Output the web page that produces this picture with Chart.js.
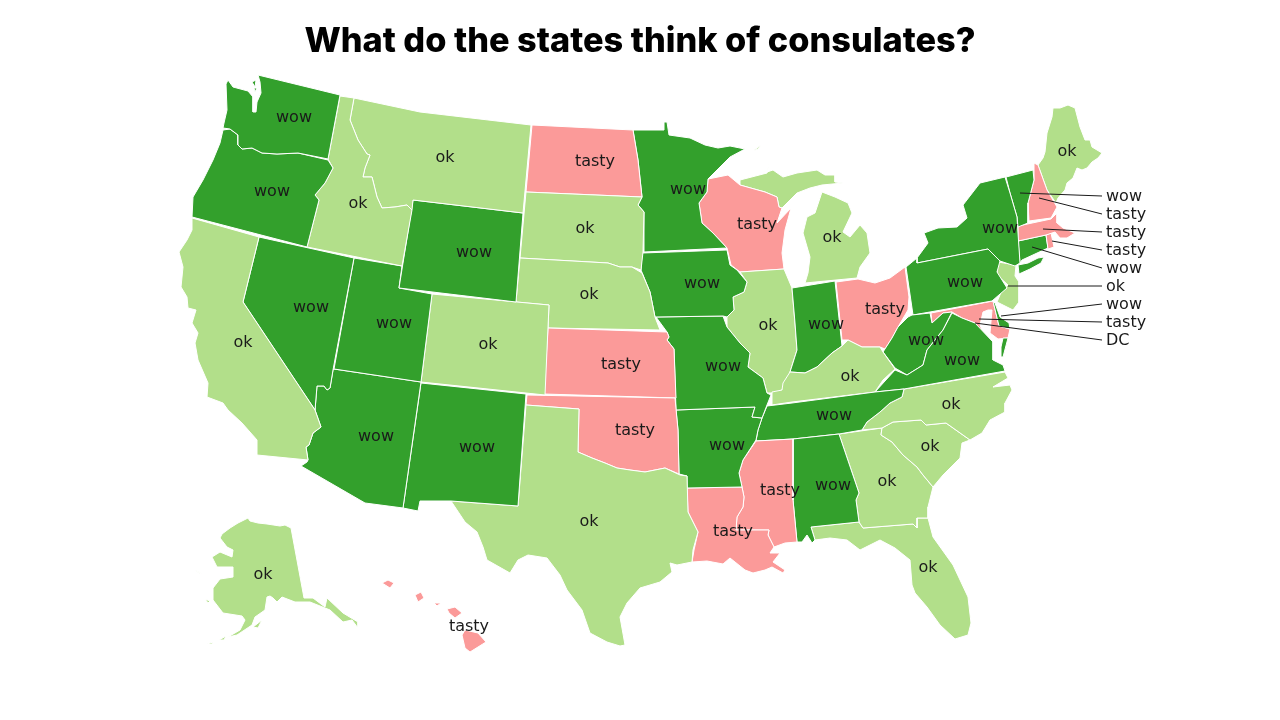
<!DOCTYPE html>
<html lang="en">
<head>
    <meta charset="UTF-8">
    <title>What do the states think of consulates?</title>
    <style>
        body { margin: 0; background: #fff; }
        #wrap { width: 1280px; height: 720px; }
    </style>
</head>
<body>
    <div id="wrap"><canvas id="map"></canvas></div>

    <script src="https://cdn.jsdelivr.net/npm/chart.js"></script>
    <script>
        // categories
        var titleText = 'What do the states think of consulates?';
        var opinionColors = { wow: '#33a02c', ok: '#b2df8a', tasty: '#fb9a99' };

        // one answer per state, same order as the outlines below
        var stateNames = ['WA','OR','ID','MT','WY','CA','NV','UT','CO','AZ','NM','TX','OK','KS','NE','SD','ND','MN','IA','MO','AR','LA','MS','AL','TN','KY','VA','WV','OH','IN','IL','WI','MI','PA','NY','VT','NH','ME','MA','RI','CT','NJ','DE','MD','NC','SC','GA','FL','AK','HI'];
        var stateOpinions = ['wow','wow','ok','ok','wow','ok','wow','wow','ok','wow','wow','ok','tasty','tasty','ok','ok','tasty','wow','wow','wow','wow','tasty','tasty','wow','wow','ok','wow','wow','tasty','wow','ok','tasty','ok','wow','wow','wow','tasty','ok','tasty','tasty','wow','ok','wow','tasty','ok','ok','ok','ok','ok','tasty'];

        // state outlines, map units, one list of rings per state
        var stateRings = [
            [[[258,75],[340,95],[328,159],[298,153],[277,154],[262,153],[252,148],[242,149],[238,145],[238,135],[230,129],[223,128],[224,123],[227,110],[226,84],[228,80],[233,87],[248,91],[253,97],[253,112],[256,112],[257,102],[261,93],[260,82]],[[252,82],[256,80],[255,87]],[[254,88],[257,88],[255,92]]],
            [[[223,130],[230,129],[238,135],[238,145],[242,149],[252,148],[262,153],[277,154],[298,153],[328,160],[333,168],[325,183],[315,195],[319,200],[307,247],[192,217],[193,197],[203,180],[213,160],[220,143]]],
            [[[340,96],[354,98],[350,120],[358,140],[367,154],[370,155],[365,168],[363,177],[372,177],[377,197],[382,208],[395,207],[407,205],[412,210],[402,266],[307,247],[319,200],[315,195],[325,183],[333,168],[328,159]]],
            [[[354,98],[420,112],[531,125],[523,213],[413,200],[412,210],[407,205],[395,207],[382,208],[377,197],[372,177],[363,177],[365,168],[370,155],[367,154],[358,140],[350,120]]],
            [[[413,200],[523,213],[516,302],[399,288]]],
            [[[192,218],[259,237],[243,302],[315,410],[321,427],[313,433],[309,445],[306,447],[308,460],[257,455],[257,440],[242,423],[228,410],[223,403],[207,397],[208,383],[198,360],[195,343],[198,333],[192,323],[196,310],[188,308],[187,297],[181,287],[183,267],[179,252],[187,240],[192,230]]],
            [[[259,237],[354,258],[333,370],[330,388],[327,390],[324,386],[317,386],[315,410],[243,302]]],
            [[[354,258],[402,266],[399,288],[432,294],[421,382],[334,369]]],
            [[[432,294],[549,305],[545,395],[421,382]]],
            [[[334,369],[421,382],[403,508],[365,503],[301,466],[307,462],[308,460],[306,447],[309,445],[313,433],[321,427],[315,410],[317,386],[324,386],[327,390],[330,388],[333,370]]],
            [[[421,383],[526,394],[518,506],[451,501],[420,501],[418,511],[403,508]]],
            [[[526,405],[579,409],[578,452],[592,458],[605,463],[617,468],[630,470],[645,472],[665,468],[680,475],[687,476],[688,512],[698,532],[693,550],[692,562],[677,565],[670,563],[672,572],[660,582],[640,588],[627,603],[620,617],[625,645],[620,646],[607,642],[590,633],[582,610],[567,590],[560,575],[547,558],[528,555],[518,560],[510,573],[487,560],[483,547],[477,532],[465,522],[451,501],[518,506]]],
            [[[527,395],[675,398],[678,430],[679,474],[665,468],[645,472],[630,470],[617,468],[605,463],[592,458],[578,452],[579,409],[526,405]]],
            [[[548,328],[667,332],[669,337],[667,340],[674,349],[676,398],[544,394]]],
            [[[520,258],[608,263],[620,267],[632,267],[642,273],[650,292],[655,317],[660,330],[548,328],[549,305],[516,302]]],
            [[[526,192],[642,197],[638,205],[644,212],[643,252],[641,270],[632,267],[620,267],[608,263],[520,258]]],
            [[[532,125],[633,130],[638,160],[642,197],[526,192]]],
            [[[633,130],[664,130],[664,122],[667,122],[669,135],[690,138],[705,145],[718,148],[730,146],[745,149],[730,157],[708,179],[707,192],[699,203],[702,223],[713,233],[727,248],[644,252],[644,212],[638,205],[642,197],[638,160]]],
            [[[642,253],[727,250],[730,265],[737,270],[747,282],[744,292],[733,297],[734,310],[727,317],[723,316],[655,317],[650,292],[641,270]]],
            [[[656,317],[723,316],[727,327],[740,343],[750,353],[748,367],[763,378],[767,393],[771,395],[767,405],[762,418],[752,417],[755,407],[676,410],[674,349],[667,340],[669,337],[667,332]]],
            [[[676,410],[755,407],[752,417],[762,418],[758,430],[756,440],[743,460],[739,473],[742,487],[687,488],[687,476],[679,474],[678,430]]],
            [[[687,488],[742,487],[744,497],[743,507],[737,517],[736,530],[769,530],[768,535],[774,547],[770,553],[780,553],[773,562],[785,570],[783,573],[772,567],[765,570],[753,573],[745,570],[730,558],[723,564],[707,561],[692,562],[694,550],[698,532],[688,512]]],
            [[[756,441],[793,439],[793,500],[797,542],[785,543],[774,547],[768,535],[769,530],[736,530],[737,517],[743,507],[744,497],[742,487],[739,473],[743,460]]],
            [[[793,439],[839,434],[859,493],[856,500],[859,522],[811,527],[815,540],[812,543],[807,535],[802,542],[797,542],[793,500]]],
            [[[767,406],[792,403],[875,392],[904,389],[902,397],[890,403],[880,412],[867,422],[862,430],[839,434],[793,439],[756,441],[758,430],[762,418]]],
            [[[772,405],[772,392],[782,390],[783,383],[790,372],[805,373],[817,367],[832,353],[842,346],[848,340],[862,347],[880,347],[883,352],[895,369],[883,380],[875,392],[792,402]]],
            [[[875,392],[895,370],[907,375],[923,365],[927,350],[943,330],[952,313],[962,318],[975,323],[993,342],[993,360],[1003,365],[1005,371],[904,389]],[[1003,338],[1008,338],[1003,357],[1001,357],[1001,347]]],
            [[[912,315],[930,313],[932,323],[943,313],[952,312],[943,330],[927,350],[923,365],[907,375],[895,368],[883,352],[892,338],[898,327],[908,317]]],
            [[[836,282],[858,279],[875,283],[890,278],[905,267],[909,297],[908,310],[898,327],[892,338],[885,349],[880,347],[862,347],[848,340],[842,340]]],
            [[[792,288],[835,281],[842,346],[832,353],[817,367],[805,373],[790,372],[797,350],[795,323]]],
            [[[740,272],[784,269],[792,288],[795,323],[797,350],[790,372],[788,382],[782,390],[775,393],[767,393],[763,378],[748,367],[750,353],[740,343],[727,327],[727,317],[734,310],[733,297],[744,292],[747,282]]],
            [[[708,179],[728,175],[740,185],[765,192],[777,197],[779,207],[782,208],[777,223],[791,208],[785,230],[782,253],[784,269],[740,272],[731,265],[727,248],[713,233],[702,223],[699,203],[707,192]]],
            [[[740,180],[767,173],[770,160],[767,172],[773,170],[783,177],[797,173],[817,170],[825,175],[835,175],[835,182],[843,183],[822,185],[810,188],[797,193],[788,202],[782,208],[779,207],[777,197],[765,192],[740,185]],[[805,283],[857,278],[860,267],[870,253],[867,233],[860,225],[850,237],[843,232],[852,213],[848,203],[835,197],[822,192],[815,213],[807,217],[803,233],[810,257],[808,273]],[[753,151],[761,145],[758,149]]],
            [[[917,263],[988,249],[1000,261],[997,272],[1007,288],[992,301],[913,315],[906,267],[917,258]]],
            [[[917,263],[917,258],[928,243],[924,233],[938,228],[957,227],[967,218],[963,205],[980,183],[1005,177],[1010,193],[1017,217],[1018,233],[1020,263],[1015,266],[1000,261],[988,249]],[[1018,265],[1028,263],[1038,258],[1044,257],[1041,263],[1030,269],[1019,274]]],
            [[[1006,177],[1033,170],[1034,180],[1028,203],[1028,223],[1018,227],[1017,217],[1010,193]]],
            [[[1034,163],[1038,165],[1047,190],[1057,207],[1051,218],[1029,221],[1028,203],[1034,180]]],
            [[[1038,165],[1043,158],[1045,152],[1047,133],[1052,117],[1053,108],[1060,108],[1068,105],[1075,108],[1080,127],[1085,140],[1090,140],[1092,147],[1102,153],[1098,158],[1092,162],[1087,168],[1082,170],[1077,168],[1073,178],[1067,183],[1065,190],[1058,198],[1056,203],[1047,190]]],
            [[[1018,226],[1051,219],[1057,213],[1057,223],[1063,228],[1075,233],[1067,238],[1060,238],[1055,232],[1046,235],[1018,241]]],
            [[[1046,235],[1051,233],[1054,247],[1048,249]]],
            [[[1018,241],[1046,235],[1048,248],[1022,260],[1020,263]]],
            [[[998,262],[1016,265],[1015,276],[1019,282],[1019,302],[1013,310],[997,302],[1002,290],[1008,285],[997,275]]],
            [[[993,301],[995,303],[1000,317],[1009,323],[1010,329],[999,326]]],
            [[[931,313],[993,301],[999,326],[1010,329],[1008,338],[998,339],[990,333],[992,310],[988,310],[983,312],[980,325],[985,338],[981,341],[973,335],[975,323],[962,318],[952,312],[943,313],[932,323]]],
            [[[904,389],[1005,372],[1008,378],[993,387],[1010,385],[1012,390],[1005,403],[1005,412],[990,420],[982,433],[970,440],[946,423],[926,425],[921,420],[893,422],[882,428],[862,430],[867,422],[880,412],[890,403],[902,397]]],
            [[[882,428],[893,422],[921,420],[926,425],[946,423],[970,440],[962,443],[960,458],[953,465],[943,475],[933,487],[923,475],[917,467],[903,455],[892,442],[881,435]]],
            [[[839,434],[882,428],[881,435],[892,442],[903,455],[917,467],[923,475],[933,487],[928,507],[928,518],[917,518],[917,528],[913,524],[863,528],[859,522],[856,500],[859,493]]],
            [[[811,527],[859,522],[863,528],[913,524],[917,528],[917,518],[928,518],[933,537],[953,565],[968,597],[971,623],[968,635],[955,639],[940,625],[927,607],[915,593],[912,585],[910,560],[895,548],[880,540],[860,550],[847,540],[830,538],[815,540]]],
            [[[291,528],[304,598],[313,598],[325,607],[327,598],[343,613],[358,622],[358,628],[352,620],[343,622],[330,610],[310,602],[295,602],[282,597],[277,602],[273,598],[270,596],[267,597],[265,610],[255,617],[252,625],[237,635],[228,637],[240,630],[245,620],[242,616],[223,613],[213,600],[213,588],[220,579],[233,577],[233,567],[217,567],[212,557],[220,552],[232,557],[233,550],[227,547],[220,538],[222,534],[230,528],[238,523],[248,518],[250,521],[258,523],[267,524],[280,526],[285,525]],[[195,570],[202,574],[199,573]],[[205,599],[210,601],[208,603]],[[253,627],[262,620],[258,628]],[[219,640],[226,636],[224,640]],[[207,644],[213,642],[212,644]]],
            [[[465,630],[478,633],[486,642],[470,652],[465,648],[462,635]],[[447,609],[455,607],[462,613],[455,618],[449,613]],[[415,595],[421,592],[424,598],[418,602]],[[382,583],[388,580],[394,583],[390,588]],[[434,603],[441,603],[437,606]]]
        ];

        // answers written on the map
        var labelTexts = ['wow','wow','ok','ok','wow','ok','wow','wow','ok','wow','wow','ok','tasty','tasty','ok','ok','tasty','wow','wow','wow','wow','tasty','tasty','wow','wow','ok','wow','wow','tasty','wow','ok','tasty','ok','wow','wow','ok','ok','ok','ok','ok','ok','tasty'];
        var labelXs = [294,272,358,445,474,243,311,394,488,376,477,589,635,621,589,585,595,688,702,723,727,733,780,833,834,850,962,926,885,826,768,757,832,965,1000,1067,951,930,887,928,263,469];
        var labelYs = [118,192,204,158,253,343,308,324,345,437,448,522,431,365,295,229,162,190,284,367,446,532,491,486,416,377,361,341,310,325,326,225,238,283,229,152,405,447,482,568,575,627];

        // small northeastern states get a leader out to the side
        var calloutTexts = ['wow','tasty','tasty','tasty','wow','ok','wow','tasty','DC'];
        var calloutYs = [196,214,232,250,268,286,304,322,340];
        var calloutFromX = [1020,1039,1043,1052,1032,1008,1001,979,975];
        var calloutFromY = [193,198,229,241,247,286,316,319,323];
        var calloutToX = 1102;
        var calloutTextX = 1106;

        var datasets = [];
        calloutTexts.forEach(function (t, i) {
            datasets.push({
                data: [{ x: calloutFromX[i], y: calloutFromY[i] }, { x: calloutToX, y: calloutYs[i] }],
                borderColor: '#1a1a1a',
                borderWidth: 1,
                pointRadius: 0,
                showLine: true,
                fill: false
            });
        });
        stateRings.forEach(function (rings, i) {
            rings.forEach(function (ring) {
                var pts = ring.concat([ring[0]]).map(function (p) { return { x: p[0], y: p[1] }; });
                datasets.push({
                    label: stateNames[i],
                    data: pts,
                    showLine: true,
                    fill: 'shape',
                    backgroundColor: opinionColors[stateOpinions[i]],
                    borderColor: '#ffffff',
                    borderWidth: 1,
                    pointRadius: 0,
                    tension: 0
                });
            });
        });

        // Chart.js has no text mark, write the answers through the scales
        var mapLabels = {
            id: 'mapLabels',
            afterDatasetsDraw: function (chart) {
                var ctx = chart.ctx, sx = chart.scales.x, sy = chart.scales.y;
                ctx.save();
                ctx.font = '16px "DejaVu Sans"';
                ctx.fillStyle = '#1a1a1a';
                ctx.textBaseline = 'middle';
                ctx.textAlign = 'center';
                labelTexts.forEach(function (t, i) {
                    ctx.fillText(t, sx.getPixelForValue(labelXs[i]), sy.getPixelForValue(labelYs[i]));
                });
                ctx.textAlign = 'left';
                calloutTexts.forEach(function (t, i) {
                    ctx.fillText(t, sx.getPixelForValue(calloutTextX), sy.getPixelForValue(calloutYs[i]) + 1);
                });
                ctx.restore();
            }
        };

        new Chart(document.getElementById('map').getContext('2d'), {
            type: 'scatter',
            data: { datasets: datasets },
            plugins: [mapLabels],
            options: {
                responsive: true,
                maintainAspectRatio: false,
                animation: false,
                layout: { padding: 0 },
                plugins: {
                    legend: { display: false },
                    tooltip: { enabled: false },
                    title: {
                        display: true,
                        text: titleText,
                        color: '#000',
                        font: { family: 'Inter', size: 34.3, weight: '800', lineHeight: 1.2 },
                        padding: { top: 21, bottom: 10.84 }
                    }
                },
                scales: {
                    x: { display: false, min: 0, max: 1280 },
                    y: { display: false, min: 73, max: 720, reverse: true }
                }
            }
        });
    </script>
</body>
</html>
